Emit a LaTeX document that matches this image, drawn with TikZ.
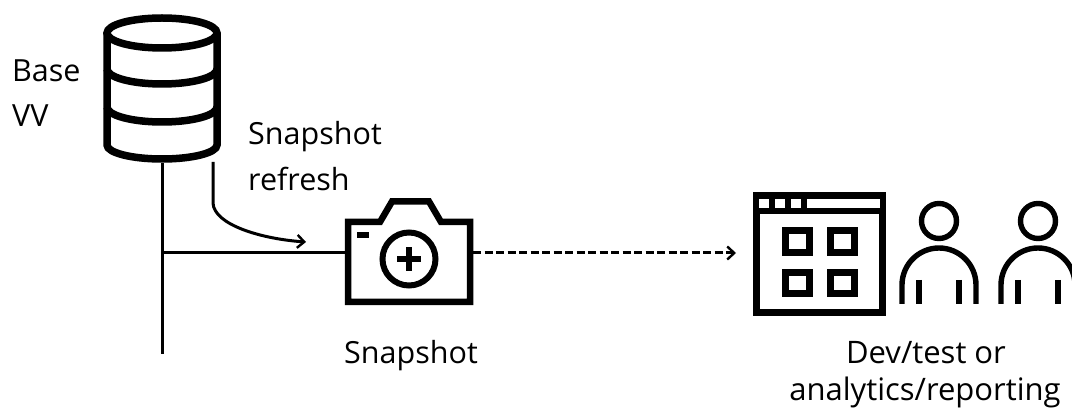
\documentclass[tikz,border=0pt]{standalone}
\usepackage{fontspec}
\setmainfont{Open Sans}
\usetikzlibrary{arrows.meta}
\tikzset{
  label text/.style={anchor=base west,inner sep=0pt,font=\fontsize{30.5}{36}\selectfont,text=black},
  center text/.style={anchor=base,inner sep=0pt,font=\fontsize{31}{36}\selectfont,text=black},
  wire/.style={line width=3pt},
  open tip/.style={-{Straight Barb[length=7pt,width=13pt,line width=2.4pt]}},
  stroke db/.style={line width=7.5pt},
  stroke app/.style={line width=6.8pt},
  stroke person/.style={line width=5.4pt},
}
\begin{document}
\begin{tikzpicture}[x=1pt,y=-1pt]
\useasboundingbox (0,0) rectangle (1072,411);
\clip (0,0) rectangle (1072,411);
% invisible anchors for icons
\node[inner sep=0pt,minimum width=118pt,minimum height=148pt] (vv) at (162,89) {};
\node[inner sep=0pt,minimum width=128pt,minimum height=107pt] (cam) at (409,251.5) {};
\node[inner sep=0pt,minimum width=133pt,minimum height=124pt] (app) at (819.5,254) {};
\coordinate (junction) at (162,253);
\coordinate (stub) at (162,354);
\coordinate (refreshstart) at (213,162);
\coordinate (refreshend) at (306,242);
\coordinate (dashend) at (736,253);
% database
\draw[stroke db] (162,33) ellipse [x radius=55pt,y radius=15pt];
\draw[stroke db] (107,33) -- (107,145) arc[start angle=180,end angle=360,x radius=55pt,y radius=14pt] -- (217,33);
\draw[stroke db] (107,69) arc[start angle=180,end angle=360,x radius=55pt,y radius=15pt];
\draw[stroke db] (107,107) arc[start angle=180,end angle=360,x radius=55pt,y radius=15pt];
% camera
\draw[line width=6.5pt,line join=miter] (348,222) -- (380,222) -- (392,201.5) -- (429,201.5) -- (441,222) -- (470,222) -- (470,302) -- (348,302) -- cycle;
\draw[line width=6pt] (409,259) circle[radius=26.5pt];
\fill (357,232) rectangle (369,238);
\fill (397,256.5) rectangle (421,262.5);
\fill (406,247.5) rectangle (412,271.5);
% application window
\draw[stroke app] (756.4,195.4) rectangle (882.6,312.6);
\fill (753,192) rectangle (886,214);
\fill[white] (759,199) rectangle (769,208);
\fill[white] (775,199) rectangle (785,208);
\fill[white] (791,199) rectangle (801,208);
\fill[white] (807,199) rectangle (880,208);
\draw[stroke app] (785.4,230.4) rectangle (809.6,252.6);
\draw[stroke app] (830.4,230.4) rectangle (854.6,252.6);
\draw[stroke app] (785.4,272.4) rectangle (809.6,293.6);
\draw[stroke app] (830.4,272.4) rectangle (854.6,293.6);
% people
\draw[stroke person] (939,221) circle[radius=17.5pt];
\draw[stroke person] (902,304) -- (902,285) arc[start angle=180,end angle=0,x radius=37pt,y radius=37pt] -- (976,304);
\draw[stroke person] (919,280) -- (919,304);
\draw[stroke person] (959,280) -- (959,304);
\draw[stroke person] (1038,221) circle[radius=17.5pt];
\draw[stroke person] (1001,304) -- (1001,285) arc[start angle=180,end angle=0,x radius=37pt,y radius=37pt] -- (1075,304);
\draw[stroke person] (1018,280) -- (1018,304);
\draw[stroke person] (1058,280) -- (1058,304);
% connectors
\draw[wire] (vv.south) -- (stub);
\draw[wire] (junction) -- (cam.west |- junction);
\draw[wire,open tip] (refreshstart) -- (213,203) .. controls (214,225) and (262,239) .. (refreshend);
\draw[wire,dash pattern=on 8pt off 3.5pt,open tip] (cam.east |- junction) -- (dashend);
% labels
\node[label text] (base) at (12,82) {Base};
\node[label text] (vvt) at (12,127) {VV};
\node[label text] (sr1) at (248,145) {Snapshot};
\node[label text] (sr2) at (248,191) {refresh};
\node[label text] (snap) at (344,364) {Snapshot};
\node[center text] (dev) at (926,364) {Dev/test or};
\node[center text] (ana) at (925,401) {analytics/reporting};
\end{tikzpicture}
\end{document}
